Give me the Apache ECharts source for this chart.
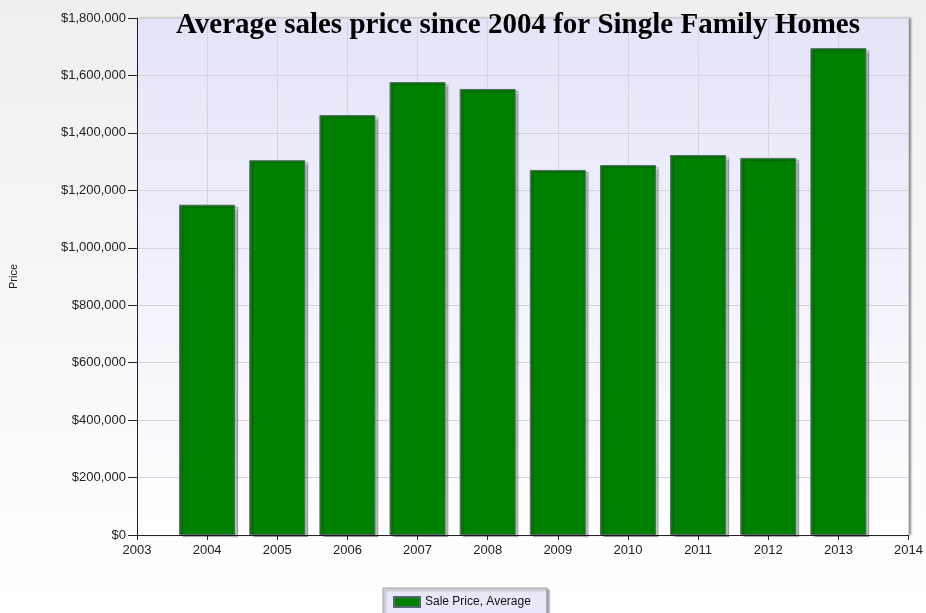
<!DOCTYPE html>
<html>
<head>
<meta charset="utf-8">
<script src="https://cdn.jsdelivr.net/npm/echarts@6/dist/echarts.min.js"></script>
<style>
  html, body { margin: 0; padding: 0; }
  #chart { width: 926px; height: 613px; }
</style>
</head>
<body>
<div id="chart"></div>
<script>
// data
const years = [2004, 2005, 2006, 2007, 2008, 2009, 2010, 2011, 2012, 2013];
const avgPrice = [1150000, 1305000, 1462000, 1577000, 1553000, 1271000, 1288000, 1323000, 1313000, 1695000];
const yearMin = 2003;
const yearMax = 2014;

const chart = echarts.init(document.getElementById('chart'));

const moneyFmt = v => '$' + v.toLocaleString('en-US');

chart.setOption({
  backgroundColor: {
    type: 'linear', x: 0, y: 0, x2: 0, y2: 1,
    colorStops: [{ offset: 0, color: '#efefef' }, { offset: 1, color: '#ffffff' }]
  },
  textStyle: { fontFamily: 'Liberation Sans, Arial, sans-serif' },
  title: {
    text: 'Average sales price since 2004 for Single Family Homes',
    left: 513,
    textAlign: 'center',
    top: 6,
    textStyle: {
      fontFamily: 'Liberation Serif, Times New Roman, serif',
      fontSize: 29,
      fontWeight: 'bold',
      color: '#000'
    }
  },
  legend: {
    data: ['Sale Price, Average'],
    left: 383,
    top: 588,
    itemWidth: 26,
    itemHeight: 10,
    itemGap: 4,
    padding: [8, 16, 8, 10],
    backgroundColor: '#e8e8f8',
    borderColor: '#9a9a9a',
    borderWidth: 1,
    shadowColor: 'rgba(0,0,0,0.35)',
    shadowOffsetX: 2,
    shadowOffsetY: 2,
    shadowBlur: 2,
    textStyle: { fontSize: 12, color: '#111' },
    icon: 'rect'
  },
  grid: {
    left: 137,
    right: 16,
    top: 18,
    bottom: 78,
    show: true,
    borderWidth: 0,
    backgroundColor: {
      type: 'linear', x: 0, y: 0, x2: 0, y2: 1,
      colorStops: [{ offset: 0, color: '#e4e4f8' }, { offset: 1, color: '#ffffff' }]
    },
    shadowColor: 'rgba(0,0,0,0.45)',
    shadowOffsetX: 2,
    shadowOffsetY: 0,
    shadowBlur: 2
  },
  xAxis: {
    type: 'value',
    min: yearMin,
    max: yearMax,
    interval: 1,
    axisLine: { show: true, lineStyle: { color: '#222', width: 1 } },
    axisTick: { show: true, length: 5, lineStyle: { color: '#222' } },
    axisLabel: { formatter: v => String(v), fontSize: 13, color: '#222', margin: 9 },
    splitLine: { show: true, lineStyle: { color: '#d4d4dc' } }
  },
  yAxis: {
    type: 'value',
    min: 0,
    max: 1800000,
    interval: 200000,
    name: 'Price',
    nameLocation: 'middle',
    nameGap: 118,
    nameTextStyle: { fontSize: 11, color: '#222' },
    axisLine: { show: true, lineStyle: { color: '#222', width: 1 } },
    axisTick: { show: true, length: 9, lineStyle: { color: '#222' } },
    axisLabel: { formatter: moneyFmt, fontSize: 13, color: '#222', margin: 11 },
    splitLine: { show: true, lineStyle: { color: '#d4d4dc' } }
  },
  series: [{
    name: 'Sale Price, Average',
    type: 'bar',
    barWidth: 56,
    data: years.map((y, i) => [y, avgPrice[i]]),
    itemStyle: {
      color: '#008000',
      borderColor: '#5a6672',
      borderWidth: 1,
      shadowColor: 'rgba(0,0,0,0.25)',
      shadowOffsetX: 3,
      shadowOffsetY: 2,
      shadowBlur: 1
    }
  }]
});
</script>
</body>
</html>
